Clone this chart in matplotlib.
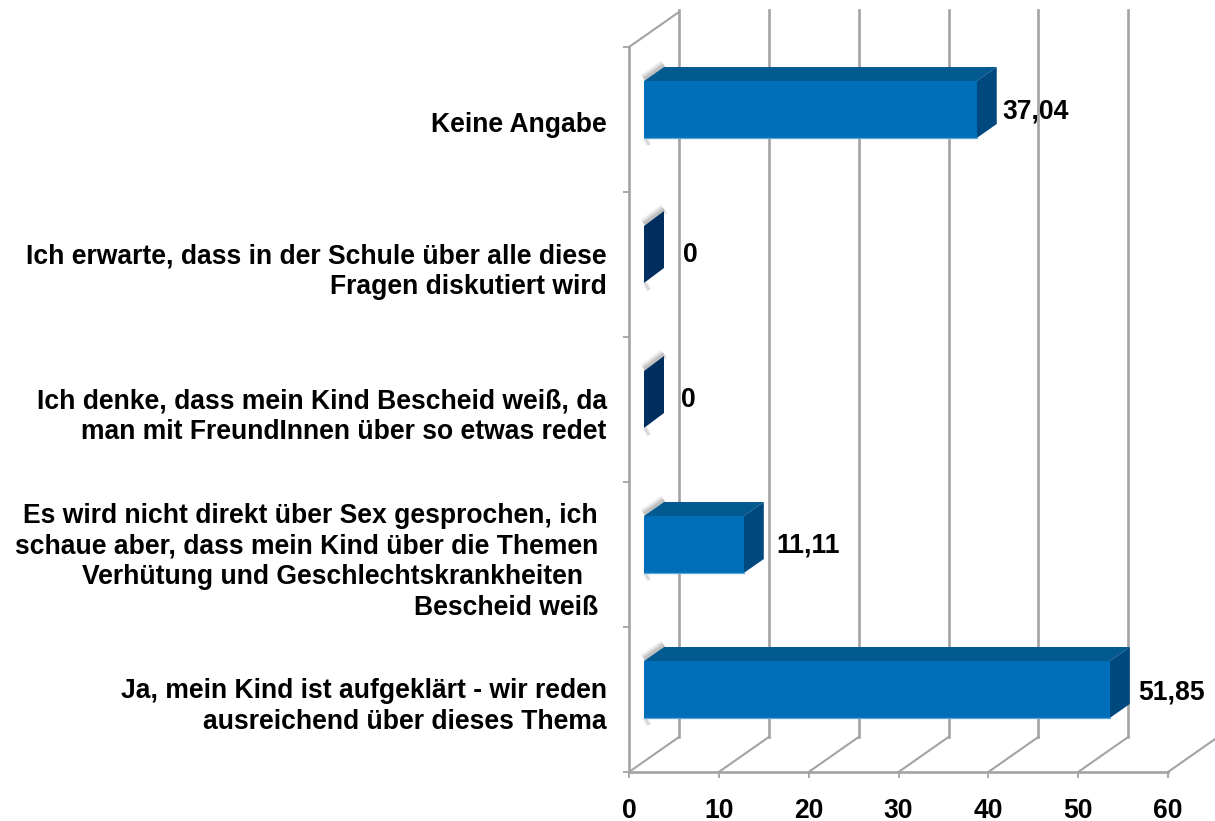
import matplotlib
matplotlib.use('Agg')
import matplotlib.pyplot as plt
import matplotlib.transforms as mtrans
import numpy as np

plt.rcParams['font.family'] = ['Liberation Sans', 'DejaVu Sans']

# Bottom to top, same order as the chart's value axis
categories = [
    'Ja, mein Kind ist aufgeklärt - wir reden\nausreichend über dieses Thema',
    'Es wird nicht direkt über Sex gesprochen, ich\nschaue aber, dass mein Kind über die Themen\nVerhütung und Geschlechtskrankheiten  \nBescheid weiß',
    'Ich denke, dass mein Kind Bescheid weiß, da\nman mit FreundInnen über so etwas redet',
    'Ich erwarte, dass in der Schule über alle diese\nFragen diskutiert wird',
    'Keine Angabe',
]
values = [51.85, 11.11, 0, 0, 37.04]
value_labels = ['51,85', '11,11', '0', '0', '37,04']
xticks = [0, 10, 20, 30, 40, 50, 60]

# pixel scale of the axes
W, H = 1215, 821
left, right, top, bottom = 629, 1168, 47, 772
px_x = 60 / (right - left)
px_y = 5 / (bottom - top)

# 3d look, in data units
wall_dx, wall_dy = 50 * px_x, 35 * px_y
gap_x, gap_y = 15 * px_x, 10 * px_y
bar_h = 57 * px_y
depth_x, depth_y = 20 * px_x, 14 * px_y
zero_dx, zero_dy = 20 * px_x, 15 * px_y
label_dx = [8, 13, 17, 19, 6]
label_dy = [-3, -1, -1, 0, -2]
label_shift = [0, -9, 0, 0, 0]

GRID = '#a3a3a3'
FRONT, TOP, SIDE, ZERO = '#006eb8', '#025a91', '#00497f', '#002f5f'
SIZE = 19.1

fig = plt.figure(figsize=(W / 100, H / 100), dpi=100)
ax = fig.add_axes([left / W, 1 - bottom / H, (right - left) / W, (bottom - top) / H])
ax.set_xlim(0, 60)
ax.set_ylim(0, 5)
ax.patch.set_alpha(0)
for s in ax.spines.values():
    s.set_visible(False)

# back wall gridlines and floor
top_back = 5 + wall_dy + 2 * px_y
for x in xticks:
    ax.plot([x + wall_dx, x + wall_dx], [wall_dy, top_back], color=GRID, lw=1.9, zorder=1, clip_on=False)
    ax.plot([x, x + wall_dx], [0, wall_dy], color=GRID, lw=1.5, zorder=1, clip_on=False)
ax.plot([0, wall_dx], [5, 5 + wall_dy], color=GRID, lw=1.5, zorder=1, clip_on=False)
ax.plot([0, 0], [0, 5], color=GRID, lw=1.9, zorder=2, clip_on=False)
ax.plot([0, 60], [0, 0], color=GRID, lw=1.9, zorder=2, clip_on=False)

for i, v in enumerate(values):
    y0 = i + 0.5 - bar_h / 2 + gap_y
    y1 = y0 + bar_h
    x0 = gap_x
    x1 = x0 + v
    dx, dy = (depth_x, depth_y) if v > 0 else (zero_dx, zero_dy)

    # soft shadow behind the left edges
    for lw, a in zip((8, 6, 4, 2), (0.07, 0.10, 0.14, 0.18)):
        ax.plot([x0, x0 + dx], [y1 + 2 * px_y, y1 + dy + 2 * px_y], color='#666666', lw=lw, alpha=a,
                zorder=3, clip_on=False, solid_capstyle='butt')
        ax.plot([x0 + px_x, x0 + 5 * px_x], [y0, y0 - 7 * px_y], color='#999999', lw=lw * 0.5, alpha=a,
                zorder=3, clip_on=False, solid_capstyle='butt')

    if v > 0:
        ax.fill([x0, x1, x1 + dx, x0 + dx], [y1, y1, y1 + dy, y1 + dy], color=TOP, lw=0, zorder=4)
        ax.fill([x1, x1 + dx, x1 + dx, x1], [y0, y0 + dy, y1 + dy, y1], color=SIDE, lw=0, zorder=4)
        ax.barh(y0 + bar_h / 2, v, height=bar_h, left=x0, color=FRONT, lw=0, zorder=5)
        ax.plot([x0, x1], [y0, y0], color='#5aa6da', lw=0.9, zorder=5)
    else:
        ax.fill([x1, x1 + dx, x1 + dx, x1], [y0, y0 + dy, y1 + dy, y1], color=ZERO, lw=0, zorder=4)

    ax.annotate(value_labels[i], (x1 + dx, y0 + bar_h / 2), xytext=(label_dx[i] * 0.72, label_dy[i] * 0.72),
                textcoords='offset points', ha='left', va='center', fontsize=SIZE,
                fontweight='bold', color='black', zorder=6)

ax.set_xticks(xticks)
ax.set_xticklabels([str(x) for x in xticks], fontsize=SIZE, fontweight='bold')
ax.tick_params(axis='x', length=4.5, width=1.3, color=GRID, pad=14)

ax.set_yticks(np.arange(6))
ax.set_yticklabels([])
ax.set_yticks(np.arange(5) + 0.5, minor=True)
ax.set_yticklabels(categories, minor=True, fontsize=SIZE, fontweight='bold', linespacing=1.24)
ax.tick_params(axis='y', which='major', length=4.5, width=1.3, color=GRID)
ax.tick_params(axis='y', which='minor', length=0, pad=16)

# labels sit a little lower than the band centre, the long one further left
for lab, shift in zip(ax.get_yticklabels(minor=True), label_shift):
    lab.set_transform(lab.get_transform() + mtrans.Affine2D().translate(shift, -2))

fig.savefig('out.png', dpi=100)
